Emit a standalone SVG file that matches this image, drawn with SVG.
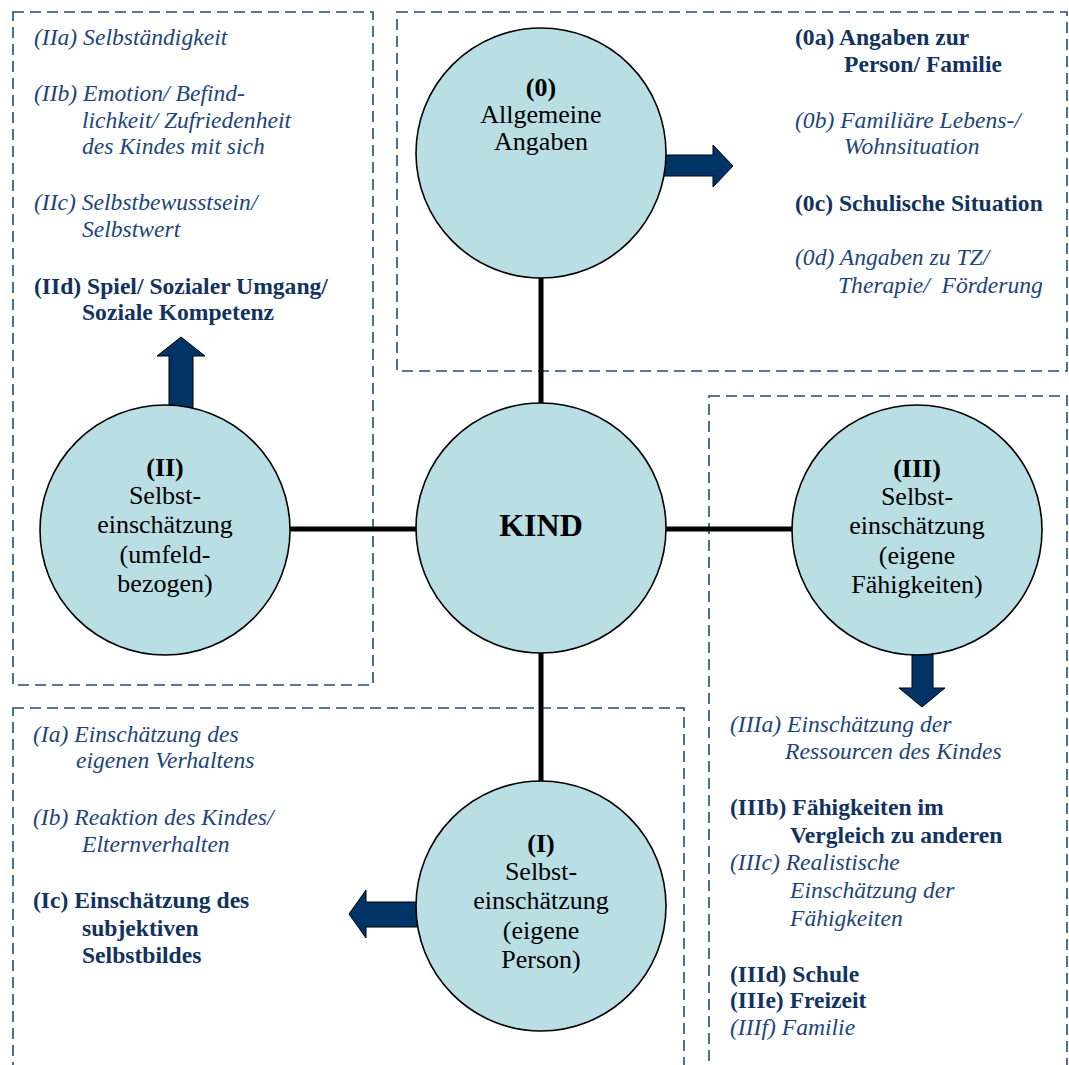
<svg xmlns="http://www.w3.org/2000/svg" width="1069" height="1065" viewBox="0 0 1069 1065">
  <style>
    .frame { fill: none; stroke: #1f4e79; stroke-width: 1.6; stroke-dasharray: 11 6; }
    .node { fill: #b9dee3; stroke: #000; stroke-width: 1.6; }
    .link { stroke: #000; stroke-width: 5; fill: none; }
    .arrow { fill: #003366; stroke: #000; stroke-width: 1; }
    .ctext { font-family: "Liberation Serif", "Times New Roman", serif; font-size: 26px; fill: #000; text-anchor: middle; }
    .ctext .b { font-weight: bold; }
    .kind { font-family: "Liberation Serif", "Times New Roman", serif; font-size: 32px; font-weight: bold; fill: #000; text-anchor: middle; }
    .it { font-family: "Liberation Serif", "Times New Roman", serif; font-size: 23.6px; font-style: italic; fill: #21457a; }
    .bd { font-family: "Liberation Serif", "Times New Roman", serif; font-size: 23.6px; font-weight: bold; fill: #12325f; }
  </style>

  <!-- dashed area frames -->
  <g id="frames">
    <rect class="frame" x="13" y="12" width="360" height="673"/>
    <rect class="frame" x="397" y="12" width="670" height="359"/>
    <rect class="frame" x="709" y="396" width="358" height="680"/>
    <rect class="frame" x="13" y="708" width="671" height="370"/>
  </g>

  <!-- connecting lines between the centre and the four areas -->
  <g id="connectors">
    <line class="link" x1="541" y1="277" x2="541" y2="404"/>
    <line class="link" x1="289" y1="529" x2="417" y2="529"/>
    <line class="link" x1="665" y1="529" x2="793" y2="529"/>
    <line class="link" x1="541" y1="653" x2="541" y2="782"/>
  </g>

  <!-- block arrows pointing to the lists -->
  <g id="arrows">
    <polygon class="arrow" points="660,155 713,155 713,145 733,166 713,187 713,176 660,176"/>
    <polygon class="arrow" points="169,410 169,356 157,356 181,337 205,356 193,356 193,410"/>
    <polygon class="arrow" points="912,635 933,635 933,688 945,688 922,707 899,688 912,688"/>
    <polygon class="arrow" points="421,902 366,902 366,890 349,914 366,938 366,927 421,927"/>
  </g>

  <!-- centre node -->
  <g id="node-kind">
    <circle class="node" cx="541" cy="528" r="125"/>
    <text class="kind" x="541" y="536">KIND</text>
  </g>

  <!-- (0) general information -->
  <g id="node-0">
    <circle class="node" cx="541" cy="153" r="125"/>
    <text class="ctext"><tspan class="b" x="541" y="96">(0)</tspan></text>
    <text class="ctext"><tspan x="541" y="123">Allgemeine</tspan><tspan x="541" y="150">Angaben</tspan></text>
  </g>

  <!-- (II) environment-related self-assessment -->
  <g id="node-II">
    <circle class="node" cx="165" cy="530" r="125"/>
    <text class="ctext"><tspan class="b" x="165" y="476">(II)</tspan><tspan x="165" y="504">Selbst-</tspan><tspan x="165" y="533">einschätzung</tspan><tspan x="165" y="563">(umfeld-</tspan><tspan x="165" y="592">bezogen)</tspan></text>
  </g>

  <!-- (III) own abilities -->
  <g id="node-III">
    <circle class="node" cx="917" cy="530" r="125"/>
    <text class="ctext"><tspan class="b" x="917" y="477">(III)</tspan><tspan x="917" y="505">Selbst-</tspan><tspan x="917" y="534">einschätzung</tspan><tspan x="917" y="564">(eigene</tspan><tspan x="917" y="593">Fähigkeiten)</tspan></text>
  </g>

  <!-- (I) own person -->
  <g id="node-I">
    <circle class="node" cx="541" cy="906" r="125"/>
    <text class="ctext"><tspan class="b" x="541" y="852">(I)</tspan><tspan x="541" y="880">Selbst-</tspan><tspan x="541" y="909">einschätzung</tspan><tspan x="541" y="939">(eigene</tspan><tspan x="541" y="968">Person)</tspan></text>
  </g>

  <!-- list (II) -->
  <g id="list-II">
    <text class="it" x="34" y="45">(IIa) Selbständigkeit</text>
    <text class="it"><tspan x="34" y="101">(IIb) Emotion/ Befind-</tspan><tspan x="82" y="128">lichkeit/ Zufriedenheit</tspan><tspan x="82" y="154">des Kindes mit sich</tspan></text>
    <text class="it"><tspan x="34" y="210">(IIc) Selbstbewusstsein/</tspan><tspan x="82" y="237">Selbstwert</tspan></text>
    <text class="bd"><tspan x="34" y="294">(IId) Spiel/ Sozialer Umgang/</tspan><tspan x="82" y="320">Soziale Kompetenz</tspan></text>
  </g>

  <!-- list (0) -->
  <g id="list-0">
    <text class="bd"><tspan x="795" y="45">(0a) Angaben zur</tspan><tspan x="844" y="72">Person/ Familie</tspan></text>
    <text class="it"><tspan x="795" y="128">(0b) Familiäre Lebens-/</tspan><tspan x="844" y="154">Wohnsituation</tspan></text>
    <text class="bd" x="795" y="211">(0c) Schulische Situation</text>
    <text class="it"><tspan x="795" y="265">(0d) Angaben zu TZ/</tspan><tspan x="838" y="293" xml:space="preserve">Therapie/  Förderung</tspan></text>
  </g>

  <!-- list (III) -->
  <g id="list-III">
    <text class="it"><tspan x="730" y="732">(IIIa) Einschätzung der</tspan><tspan x="785" y="759">Ressourcen des Kindes</tspan></text>
    <text class="bd"><tspan x="730" y="815">(IIIb) Fähigkeiten im</tspan><tspan x="790" y="843">Vergleich zu anderen</tspan></text>
    <text class="it"><tspan x="730" y="870">(IIIc) Realistische</tspan><tspan x="790" y="898">Einschätzung der</tspan><tspan x="790" y="926">Fähigkeiten</tspan></text>
    <text class="bd"><tspan x="730" y="982">(IIId) Schule</tspan><tspan x="730" y="1008">(IIIe) Freizeit</tspan></text>
    <text class="it" x="730" y="1035">(IIIf) Familie</text>
  </g>

  <!-- list (I) -->
  <g id="list-I">
    <text class="it"><tspan x="33" y="742">(Ia) Einschätzung des</tspan><tspan x="76" y="768">eigenen Verhaltens</tspan></text>
    <text class="it"><tspan x="33" y="825">(Ib) Reaktion des Kindes/</tspan><tspan x="82" y="852">Elternverhalten</tspan></text>
    <text class="bd"><tspan x="33" y="908">(Ic) Einschätzung des</tspan><tspan x="82" y="936">subjektiven</tspan><tspan x="82" y="963">Selbstbildes</tspan></text>
  </g>
</svg>
